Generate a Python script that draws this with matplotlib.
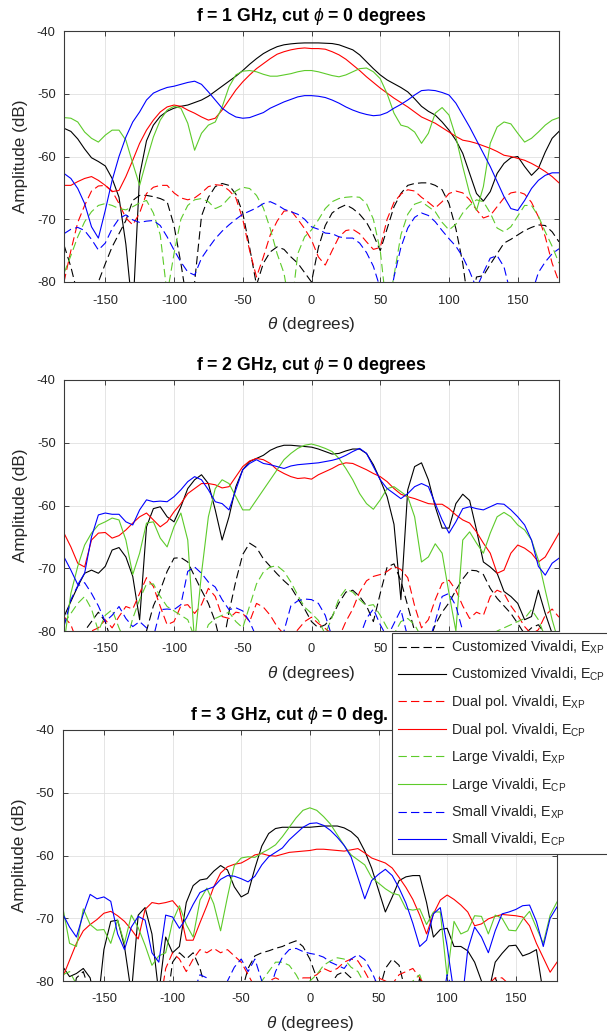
import numpy as np
import matplotlib
matplotlib.use("Agg")
import matplotlib.pyplot as plt

plt.rcParams["font.family"] = ["Liberation Sans", "DejaVu Sans"]
plt.rcParams["mathtext.fontset"] = "custom"
plt.rcParams["mathtext.rm"] = "Liberation Sans"
plt.rcParams["mathtext.it"] = "Liberation Sans:italic"
plt.rcParams["mathtext.bf"] = "Liberation Sans:bold"
plt.rcParams["axes.unicode_minus"] = False
plt.rcParams["lines.scale_dashes"] = False

# angle grid (degrees), values read every 5 degrees
theta = np.arange(-180, 181, 5)

labels = [r"Customized Vivaldi, E$_{\mathrm{XP}}$", r"Customized Vivaldi, E$_{\mathrm{CP}}$",
          r"Dual pol. Vivaldi, E$_{\mathrm{XP}}$", r"Dual pol. Vivaldi, E$_{\mathrm{CP}}$",
          r"Large Vivaldi, E$_{\mathrm{XP}}$", r"Large Vivaldi, E$_{\mathrm{CP}}$",
          r"Small Vivaldi, E$_{\mathrm{XP}}$", r"Small Vivaldi, E$_{\mathrm{CP}}$"]

titles = [r"f = 1 GHz, cut $\phi$ = 0 degrees", r"f = 2 GHz, cut $\phi$ = 0 degrees",
          r"f = 3 GHz, cut $\phi$ = 0 deg."]

# ---------------- f = 1 GHz ----------------
cust_xp_1 = [-74.1, -77.6, -82.0, -85.0, -85.0, -80.0, -77.1, -74.4, -72.3, -70.2,
             -67.0, -66.2, -66.2, -66.4, -66.7, -67.2, -71.0, -77.0, -84.0, -80.0,
             -69.5, -66.5, -64.8, -64.3, -64.6, -66.0, -69.0, -74.5, -80.5, -77.0,
             -75.2, -74.4, -74.8, -76.0, -77.0, -78.5, -80.0, -74.5, -71.0, -69.0,
             -68.2, -67.7, -68.3, -69.2, -70.5, -72.5, -75.0, -71.5, -68.0, -65.9,
             -64.6, -64.3, -64.2, -64.2, -64.6, -65.3, -67.5, -71.5, -77.0, -85.0,
             -79.2, -79.0, -77.2, -75.5, -73.8, -73.2, -72.5, -71.8, -71.3, -70.9,
             -71.0, -72.0, -73.6]
cust_cp_1 = [-55.5, -56.0, -57.2, -58.8, -60.2, -60.8, -61.5, -63.5, -66.5, -74.0,
             -85.0, -63.0, -57.5, -55.0, -53.6, -52.8, -52.3, -52.0, -51.8, -51.4,
             -51.0, -50.4, -49.6, -48.8, -48.0, -47.2, -46.3, -45.3, -44.4, -43.6,
             -43.0, -42.5, -42.2, -42.05, -41.95, -41.9, -41.9, -41.9, -41.95, -42.0,
             -42.2, -42.6, -43.0, -43.8, -44.9, -46.0, -47.0, -47.8, -48.4, -49.0,
             -49.7, -50.8, -52.0, -52.8, -53.4, -54.5, -55.8, -57.4, -59.5, -62.7,
             -65.9, -67.1, -65.6, -62.7, -61.1, -60.2, -60.0, -61.6, -63.0, -61.9,
             -59.3, -57.1, -56.0]
dual_xp_1 = [-80.0, -75.0, -70.5, -67.8, -65.5, -64.7, -64.6, -65.5, -67.5, -69.8,
             -70.9, -69.0, -65.9, -64.9, -64.6, -64.6, -65.8, -66.6, -66.9, -66.6,
             -65.8, -64.8, -64.5, -64.6, -65.4, -66.6, -70.0, -75.0, -79.2, -76.0,
             -72.5, -70.3, -68.7, -68.6, -70.0, -71.5, -73.3, -76.0, -77.3, -75.0,
             -72.8, -71.8, -71.6, -72.3, -73.6, -74.8, -74.5, -70.0, -67.3, -66.0,
             -65.3, -65.5, -66.5, -67.3, -68.2, -67.2, -65.9, -65.5, -65.8, -66.9,
             -68.5, -69.8, -69.4, -68.0, -66.6, -65.8, -65.6, -66.0, -67.3, -69.6,
             -72.8, -77.0, -80.0]
dual_cp_1 = [-64.6, -64.6, -64.0, -63.5, -63.2, -63.8, -64.6, -65.6, -65.4, -63.2,
             -60.6, -57.9, -55.8, -54.2, -52.9, -52.1, -51.8, -52.0, -52.6, -53.1,
             -53.7, -54.2, -53.9, -52.6, -51.0, -49.4, -48.1, -47.0, -46.0, -45.2,
             -44.4, -43.7, -43.3, -43.0, -42.8, -42.7, -42.8, -42.8, -42.9, -43.3,
             -43.8, -44.5, -45.4, -46.3, -47.3, -48.2, -49.1, -49.9, -50.7, -51.4,
             -52.1, -52.9, -53.7, -54.2, -54.7, -55.4, -56.1, -56.8, -57.4, -57.6,
             -57.9, -58.3, -58.7, -59.2, -59.8, -60.0, -60.3, -60.6, -61.1, -61.7,
             -62.4, -63.2, -64.2]
large_xp_1 = [-78.6, -75.8, -72.8, -70.4, -68.8, -67.8, -67.5, -67.8, -68.3, -68.5,
              -68.0, -67.4, -67.0, -69.0, -72.5, -82.0, -75.5, -70.0, -67.8, -66.9,
              -66.7, -67.2, -68.3, -67.8, -66.6, -65.5, -64.9, -65.1, -66.2, -68.2,
              -71.5, -75.5, -78.6, -85.0, -75.5, -72.8, -71.7, -70.1, -68.3, -67.2,
              -66.7, -66.5, -66.4, -66.5, -67.5, -70.0, -75.0, -85.0, -79.0, -72.5,
              -69.2, -67.6, -67.2, -68.0, -68.8, -70.5, -71.7, -70.8, -69.0, -67.8,
              -66.9, -67.2, -69.0, -71.4, -72.0, -71.2, -69.5, -67.8, -67.8, -69.5,
              -72.0, -74.3, -77.0]
large_cp_1 = [-53.8, -53.9, -54.5, -56.1, -57.1, -57.7, -56.6, -55.8, -55.8, -57.4,
              -61.1, -64.6, -60.6, -56.9, -54.2, -52.6, -52.0, -52.3, -54.7, -59.0,
              -56.3, -55.0, -54.5, -52.1, -48.9, -47.0, -46.4, -46.3, -46.5, -46.9,
              -47.2, -47.2, -47.0, -46.8, -46.5, -46.3, -46.3, -46.5, -46.8, -47.1,
              -47.3, -47.0, -46.5, -46.0, -45.9, -46.5, -47.6, -50.0, -53.1, -55.0,
              -55.3, -56.1, -57.9, -56.3, -53.1, -52.2, -53.4, -56.9, -61.6, -65.9,
              -68.6, -64.8, -57.9, -55.3, -54.5, -54.8, -56.3, -57.7, -57.1, -56.1,
              -55.0, -54.2, -53.8]
small_xp_1 = [-72.3, -71.6, -71.3, -71.8, -73.2, -74.9, -73.8, -71.5, -69.9, -69.3,
              -70.1, -70.5, -70.3, -70.2, -71.0, -72.8, -74.9, -76.8, -78.4, -78.9,
              -76.2, -74.6, -73.1, -71.9, -70.9, -70.0, -69.2, -68.7, -68.2, -67.5,
              -67.2, -67.7, -68.4, -68.8, -69.2, -70.0, -71.2, -71.6, -72.2, -72.3,
              -72.8, -73.0, -73.0, -73.8, -75.3, -77.5, -81.0, -85.0, -79.2, -74.5,
              -71.4, -69.7, -69.0, -69.4, -70.4, -71.8, -73.1, -74.3, -76.0, -78.3,
              -81.0, -78.5, -76.2, -75.8, -77.6, -82.0, -85.0, -85.0, -82.0, -78.5,
              -76.8, -75.5, -74.7]
small_cp_1 = [-62.7, -63.5, -65.1, -67.5, -71.2, -73.0, -68.6, -63.8, -60.0, -56.9,
              -54.5, -52.9, -51.0, -49.9, -49.4, -49.0, -48.8, -48.5, -48.2, -48.0,
              -48.5, -49.7, -51.0, -52.3, -53.1, -53.7, -53.9, -53.8, -53.4, -53.0,
              -52.3, -51.8, -51.3, -50.9, -50.5, -50.3, -50.3, -50.4, -50.6, -51.0,
              -51.5, -52.1, -52.6, -53.0, -53.3, -53.5, -53.4, -53.0, -52.3, -51.7,
              -51.0, -50.2, -49.5, -49.4, -49.5, -49.8, -50.2, -51.5, -53.4, -55.3,
              -57.4, -59.5, -61.6, -64.0, -66.4, -68.3, -68.6, -67.0, -65.1, -63.8,
              -63.0, -62.6, -62.6]

# ---------------- f = 2 GHz ----------------
cust_xp_2 = [-85.0, -85.0, -85.0, -80.0, -78.5, -77.0, -78.5, -82.0, -85.0, -85.0,
             -85.0, -85.0, -80.0, -76.0, -73.5, -70.5, -68.4, -68.3, -69.0, -71.3,
             -73.5, -75.6, -78.5, -83.0, -77.0, -72.0, -67.8, -66.0, -66.7, -68.5,
             -69.7, -70.9, -72.0, -73.0, -74.8, -76.5, -78.5, -79.5, -79.0, -77.7,
             -75.5, -73.8, -73.5, -74.5, -76.0, -78.5, -74.0, -69.8, -69.3, -72.0,
             -76.0, -80.0, -85.0, -82.0, -79.0, -77.0, -75.5, -73.5, -71.7, -70.3,
             -70.4, -71.0, -73.2, -74.8, -76.0, -77.2, -78.8, -80.5, -79.5, -79.0,
             -80.5, -85.0, -85.0]
cust_cp_2 = [-77.7, -75.3, -72.9, -70.8, -70.3, -70.8, -69.7, -67.1, -66.7, -68.2,
             -71.3, -78.2, -63.4, -60.5, -60.2, -61.8, -62.6, -60.2, -57.3, -55.9,
             -55.1, -56.5, -60.7, -65.5, -61.8, -57.0, -54.3, -53.0, -52.5, -52.0,
             -51.2, -50.7, -50.4, -50.4, -50.5, -50.6, -50.7, -51.0, -51.4, -51.8,
             -51.7, -51.3, -51.0, -51.0, -51.7, -53.5, -55.9, -58.6, -63.0, -75.0,
             -57.5, -53.8, -53.2, -55.9, -60.2, -63.6, -63.6, -59.7, -58.2, -59.2,
             -63.9, -69.0, -69.8, -70.8, -73.7, -74.5, -75.6, -78.2, -77.7, -73.5,
             -77.2, -80.4, -82.0]
dual_xp_2 = [-77.7, -79.0, -82.0, -81.0, -80.0, -79.5, -78.2, -79.5, -77.7, -76.1,
             -76.5, -74.0, -71.5, -72.9, -76.1, -79.0, -78.5, -76.0, -75.8, -77.2,
             -75.8, -73.2, -74.5, -77.7, -78.0, -77.0, -77.2, -78.5, -75.6, -76.2,
             -77.5, -79.3, -80.5, -81.0, -79.8, -78.5, -77.8, -78.8, -79.6, -80.5,
             -81.0, -78.5, -76.5, -73.8, -72.0, -71.3, -71.0, -70.5, -69.7, -70.2,
             -71.5, -76.0, -79.5, -78.2, -75.0, -72.4, -71.9, -73.5, -76.0, -78.0,
             -77.0, -77.5, -74.5, -73.5, -74.0, -76.0, -77.5, -79.3, -80.5, -79.8,
             -77.5, -76.5, -77.8]
dual_cp_2 = [-64.4, -66.6, -69.2, -69.8, -65.5, -64.4, -64.3, -65.2, -64.8, -63.9,
             -62.8, -61.8, -61.2, -62.3, -63.4, -62.6, -61.0, -59.7, -58.1, -57.3,
             -56.5, -56.5, -56.7, -57.2, -57.0, -55.4, -53.8, -52.9, -52.5, -52.7,
             -53.3, -54.3, -54.9, -55.4, -55.7, -55.6, -55.8, -55.1, -54.6, -54.1,
             -53.5, -53.2, -53.3, -53.8, -54.3, -54.9, -55.4, -56.2, -57.3, -58.2,
             -58.6, -58.9, -59.3, -59.7, -59.8, -59.8, -60.5, -61.5, -62.3, -62.8,
             -64.2, -66.0, -67.6, -70.8, -70.3, -67.6, -66.3, -66.8, -67.6, -69.0,
             -68.2, -66.3, -64.4]
large_xp_2 = [-78.8, -77.2, -75.6, -74.5, -76.5, -80.0, -77.5, -76.6, -79.5, -82.0,
              -78.0, -75.0, -72.5, -72.5, -74.5, -76.1, -76.8, -77.5, -78.2, -81.0,
              -82.0, -79.0, -78.0, -77.5, -77.0, -78.5, -79.5, -76.0, -72.5, -70.6,
              -69.8, -69.6, -70.5, -72.2, -74.3, -76.2, -77.2, -78.3, -80.5, -77.8,
              -74.8, -73.3, -73.8, -75.0, -76.0, -75.8, -77.5, -79.5, -80.5, -78.5,
              -78.0, -79.0, -81.0, -83.0, -85.0, -85.0, -85.0, -85.0, -85.0, -85.0,
              -83.0, -82.0, -81.0, -80.0, -79.5, -79.0, -78.5, -78.0, -76.6, -78.2,
              -81.0, -85.0, -85.0]
large_cp_2 = [-82.0, -74.0, -69.7, -66.3, -64.4, -63.1, -62.6, -62.0, -62.3, -65.5,
              -71.0, -67.6, -62.8, -62.6, -65.2, -66.6, -63.4, -61.2, -65.5, -82.0,
              -70.8, -61.8, -57.3, -55.9, -56.5, -58.6, -60.7, -60.7, -59.1, -57.5,
              -55.9, -54.3, -52.7, -51.7, -50.9, -50.4, -50.2, -50.5, -50.9, -51.4,
              -52.5, -54.1, -55.9, -58.1, -59.7, -60.6, -59.1, -57.3, -57.0, -57.8,
              -58.6, -61.8, -69.0, -68.2, -66.1, -67.6, -74.0, -80.0, -65.5, -64.2,
              -66.0, -67.6, -64.4, -61.8, -61.1, -61.8, -63.1, -63.9, -65.5, -68.7,
              -73.5, -78.2, -82.0]
small_xp_2 = [-79.3, -75.0, -72.8, -72.3, -74.0, -76.0, -78.5, -77.5, -76.1, -78.0,
              -79.3, -78.5, -79.5, -81.0, -76.6, -76.5, -76.6, -75.8, -70.5, -69.8,
              -70.8, -72.2, -73.0, -75.0, -76.6, -76.3, -76.8, -78.5, -81.0, -83.0,
              -83.0, -82.0, -80.0, -76.0, -75.2, -74.9, -75.0, -75.6, -77.5, -81.0,
              -83.0, -83.0, -82.0, -81.0, -78.0, -76.5, -79.0, -81.0, -78.8, -76.6,
              -81.0, -85.0, -85.0, -82.0, -78.5, -74.5, -74.0, -76.0, -80.0, -85.0,
              -85.0, -85.0, -85.0, -85.0, -85.0, -85.0, -85.0, -85.0, -85.0, -85.0,
              -85.0, -85.0, -85.0]
small_cp_2 = [-68.2, -70.3, -72.6, -70.8, -65.0, -61.5, -61.2, -61.4, -61.4, -62.6,
              -63.1, -60.7, -59.1, -59.4, -59.3, -59.4, -58.6, -57.5, -56.2, -55.4,
              -55.9, -57.5, -59.4, -59.7, -60.7, -57.5, -54.3, -53.3, -52.7, -53.3,
              -53.5, -53.8, -54.1, -53.7, -53.5, -53.4, -53.3, -53.2, -53.0, -52.8,
              -52.5, -52.0, -51.4, -50.9, -51.7, -53.8, -55.9, -57.3, -58.1, -58.9,
              -58.1, -57.0, -56.5, -57.0, -59.7, -62.3, -64.4, -62.6, -60.5, -60.2,
              -60.5, -60.7, -60.2, -59.7, -59.8, -60.7, -61.8, -63.1, -65.5, -69.7,
              -71.1, -69.2, -68.4]

# ---------------- f = 3 GHz ----------------
cust_xp_3 = [-82.0, -85.0, -79.5, -78.5, -82.0, -85.0, -85.0, -85.0, -85.0, -85.0,
             -85.0, -85.0, -85.0, -85.0, -85.0, -85.0, -77.0, -75.5, -76.5, -75.5,
             -78.0, -82.0, -85.0, -85.0, -85.0, -85.0, -82.0, -78.0, -76.0, -75.5,
             -75.2, -74.8, -74.5, -74.0, -73.6, -74.5, -76.5, -79.5, -82.0, -80.5,
             -79.0, -78.5, -79.5, -82.0, -85.0, -85.0, -82.0, -78.0, -76.5, -77.5,
             -82.0, -85.0, -79.5, -82.0, -85.0, -85.0, -85.0, -85.0, -85.0, -85.0,
             -85.0, -85.0, -82.0, -79.5, -82.0, -85.0, -85.0, -85.0, -85.0, -85.0,
             -85.0, -85.0, -85.0]
cust_cp_3 = [-77.7, -79.3, -78.8, -78.0, -79.5, -85.0, -75.0, -70.5, -70.3, -74.5,
             -82.0, -69.5, -68.3, -72.5, -82.0, -73.0, -75.5, -74.5, -67.5, -64.8,
             -63.9, -63.7, -62.5, -61.6, -62.3, -65.0, -66.6, -66.0, -62.0, -58.5,
             -56.5, -55.7, -55.5, -55.5, -55.5, -55.5, -55.5, -55.4, -55.3, -55.3,
             -55.3, -55.6, -56.2, -57.2, -59.3, -62.0, -65.5, -69.0, -66.6, -64.0,
             -63.4, -63.2, -63.2, -67.5, -73.0, -71.8, -71.6, -74.5, -74.5, -75.2,
             -77.0, -80.0, -82.0, -77.0, -75.6, -74.4, -74.3, -76.0, -75.6, -75.0,
             -82.0, -85.0, -85.0]
dual_xp_3 = [-85.0, -85.0, -85.0, -85.0, -85.0, -85.0, -85.0, -85.0, -85.0, -85.0,
             -85.0, -85.0, -85.0, -85.0, -85.0, -78.0, -75.5, -76.5, -78.5, -76.5,
             -75.0, -75.5, -74.8, -75.5, -75.0, -76.0, -77.0, -79.0, -81.0, -82.0,
             -80.0, -79.5, -80.0, -81.0, -80.5, -79.5, -79.5, -79.0, -78.0, -78.5,
             -78.0, -77.0, -76.5, -76.8, -78.5, -80.5, -79.5, -80.0, -80.5, -79.0,
             -78.5, -78.0, -79.5, -81.0, -82.0, -85.0, -85.0, -85.0, -85.0, -85.0,
             -85.0, -82.0, -80.5, -79.5, -79.5, -80.5, -82.0, -85.0, -85.0, -85.0,
             -85.0, -85.0, -85.0]
dual_cp_3 = [-79.4, -76.7, -74.0, -72.0, -71.0, -70.2, -69.2, -68.9, -69.6, -70.5,
             -71.8, -73.3, -68.6, -67.5, -67.7, -67.5, -67.2, -68.5, -73.5, -73.5,
             -70.7, -68.0, -65.0, -62.8, -61.8, -61.4, -61.2, -60.6, -59.9, -59.7,
             -60.0, -60.1, -59.8, -59.5, -59.4, -59.3, -59.2, -59.0, -59.0, -59.1,
             -59.2, -59.3, -59.1, -58.9, -59.6, -60.4, -60.8, -61.2, -62.0, -63.5,
             -65.1, -67.0, -69.5, -72.5, -69.3, -67.1, -66.3, -67.0, -67.9, -69.0,
             -71.2, -70.9, -70.1, -69.7, -69.4, -69.5, -69.6, -69.8, -71.2, -74.0,
             -76.3, -78.6, -77.0]
large_xp_3 = [-79.0, -78.5, -80.5, -82.0, -85.0, -85.0, -85.0, -85.0, -85.0, -85.0,
              -85.0, -85.0, -85.0, -85.0, -85.0, -85.0, -82.0, -81.0, -85.0, -85.0,
              -85.0, -85.0, -85.0, -85.0, -85.0, -85.0, -85.0, -82.0, -80.5, -80.0,
              -78.5, -77.0, -77.0, -77.5, -79.0, -81.0, -80.0, -79.0, -77.5, -76.8,
              -76.3, -76.5, -77.8, -78.5, -80.5, -82.0, -85.0, -85.0, -85.0, -85.0,
              -85.0, -80.0, -79.0, -82.0, -85.0, -85.0, -85.0, -85.0, -85.0, -85.0,
              -85.0, -85.0, -85.0, -85.0, -85.0, -85.0, -85.0, -85.0, -85.0, -85.0,
              -85.0, -85.0, -85.0]
large_cp_3 = [-68.2, -74.0, -74.5, -68.5, -71.0, -71.9, -71.8, -74.0, -70.3, -74.0,
              -69.5, -71.5, -74.3, -77.5, -76.0, -75.5, -70.5, -68.0, -71.0, -73.0,
              -67.1, -65.2, -67.7, -72.0, -66.6, -61.6, -60.4, -60.2, -60.3, -59.6,
              -59.0, -58.3, -57.0, -55.5, -54.0, -52.8, -52.4, -52.8, -53.8, -55.0,
              -56.7, -58.4, -59.9, -60.7, -61.5, -63.5, -64.4, -65.3, -66.0, -66.3,
              -68.5, -68.7, -68.5, -71.0, -69.0, -69.0, -79.4, -70.5, -72.5, -72.0,
              -69.6, -69.7, -72.5, -69.5, -70.0, -71.9, -72.0, -70.2, -68.9, -71.5,
              -74.0, -69.5, -67.4]
small_xp_3 = [-85.0, -85.0, -85.0, -85.0, -85.0, -85.0, -85.0, -85.0, -85.0, -85.0,
              -85.0, -85.0, -85.0, -85.0, -85.0, -85.0, -85.0, -85.0, -85.0, -82.0,
              -79.0, -79.5, -82.0, -85.0, -80.0, -77.8, -76.5, -78.5, -76.5, -80.0,
              -82.0, -78.5, -76.2, -75.0, -74.8, -75.3, -75.6, -75.8, -76.2, -77.0,
              -77.5, -78.0, -76.5, -75.8, -76.6, -78.5, -81.0, -85.0, -85.0, -85.0,
              -85.0, -85.0, -85.0, -85.0, -85.0, -85.0, -79.0, -82.0, -85.0, -85.0,
              -85.0, -85.0, -85.0, -85.0, -85.0, -85.0, -85.0, -85.0, -85.0, -85.0,
              -85.0, -85.0, -85.0]
small_cp_3 = [-69.3, -71.4, -73.0, -69.3, -66.2, -66.9, -66.6, -67.3, -72.5, -75.0,
              -71.4, -69.7, -70.3, -75.5, -77.0, -69.5, -69.8, -71.6, -70.0, -67.8,
              -65.9, -65.4, -65.0, -63.8, -63.2, -63.3, -63.7, -64.2, -63.3, -61.5,
              -60.2, -59.5, -58.8, -57.5, -56.5, -55.5, -54.9, -54.8, -55.2, -56.0,
              -57.1, -58.4, -60.2, -63.5, -66.9, -64.0, -63.0, -62.2, -63.2, -65.2,
              -67.6, -70.8, -74.5, -73.5, -69.3, -68.3, -74.5, -82.0, -85.0, -75.0,
              -71.4, -73.0, -75.5, -72.0, -69.3, -69.0, -68.6, -68.0, -67.9, -70.5,
              -74.5, -70.0, -68.2]

panel_data = [
    [cust_xp_1, cust_cp_1, dual_xp_1, dual_cp_1, large_xp_1, large_cp_1, small_xp_1, small_cp_1],
    [cust_xp_2, cust_cp_2, dual_xp_2, dual_cp_2, large_xp_2, large_cp_2, small_xp_2, small_cp_2],
    [cust_xp_3, cust_cp_3, dual_xp_3, dual_cp_3, large_xp_3, large_cp_3, small_xp_3, small_cp_3],
]

GREEN = "#5dcb2a"
colors = ["k", "k", "#ff0000", "#ff0000", GREEN, GREEN, "#0000ff", "#0000ff"]
dashed = [True, False, True, False, True, False, True, False]

W, H = 607, 1034
fig = plt.figure(figsize=(W / 100, H / 100), dpi=100)

# axes boxes in pixels: left, top, right, bottom
boxes = [(64, 31, 559, 282), (64, 380, 559, 631), (62.7, 730, 557, 981)]
title_pos = [(0.5, "center"), (0.5, "center"), ((190 - 62.7) / 494.3, "left")]

axc = "#262626"
handles = None
axes = []
for box, series, title, (tx, tha) in zip(boxes, panel_data, titles, title_pos):
    l, t, r, b = box
    ax = fig.add_axes([l / W, 1 - b / H, (r - l) / W, (b - t) / H])
    axes.append(ax)
    lines = []
    for vals, c, d, lab in zip(series, colors, dashed, labels):
        if d:
            ln, = ax.plot(theta, vals, color=c, lw=0.8, dashes=(6, 3), label=lab)
        else:
            ln, = ax.plot(theta, vals, color=c, lw=0.8, label=lab)
        lines.append(ln)
    if handles is None:
        handles = lines
    ax.set_xlim(-180, 180)
    ax.set_ylim(-80, -40)
    ax.set_xticks([-150, -100, -50, 0, 50, 100, 150])
    ax.set_yticks([-80, -70, -60, -50, -40])
    ax.grid(True, color="#e0e0e0", lw=0.6)
    ax.set_axisbelow(True)
    ax.tick_params(direction="in", length=3.5, width=0.6, top=True, right=True,
                   colors=axc, labelsize=9.3)
    ax.tick_params(axis="x", pad=9)
    ax.tick_params(axis="y", pad=6)
    for s in ax.spines.values():
        s.set_color("#3a3a3a")
        s.set_linewidth(0.8)
    ax.set_xlabel(r"$\theta$ (degrees)", fontsize=12.3, color=axc, labelpad=6)
    ax.set_ylabel("Amplitude (dB)", fontsize=12.3, color=axc, labelpad=6)
    ax.annotate(title, xy=(tx, 1), xycoords="axes fraction", xytext=(0, 3),
                textcoords="offset points", ha=tha, va="bottom",
                fontsize=12.7, fontweight="bold", color="k")

# tick labels of the middle panel that sit under the legend box
fig.canvas.draw()
for lab in axes[1].get_xticklabels():
    if lab.get_text() in ("100", "150"):
        lab.set_visible(False)

leg = fig.legend(handles, labels, loc="upper left",
                 bbox_to_anchor=(392 / W, 1 - 633 / H), bbox_transform=fig.transFigure,
                 fontsize=10.3, frameon=True, fancybox=False, framealpha=1,
                 edgecolor="#3a3a3a", borderaxespad=0, borderpad=0.4,
                 labelspacing=0.68, handlelength=3.4, handletextpad=0.3)
leg.get_frame().set_linewidth(0.8)
for txt in leg.get_texts():
    txt.set_color(axc)

fig.savefig("out.png", dpi=100)
